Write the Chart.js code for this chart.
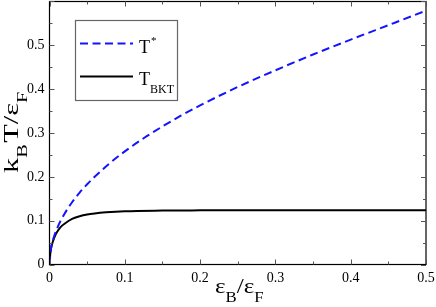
<!DOCTYPE html>
<html>
<head>
<meta charset="utf-8">
<script src="https://cdn.jsdelivr.net/npm/chart.js@4"></script>
<style>
  html, body { margin: 0; padding: 0; background: #fff; }
  #chart { display: block; }
</style>
</head>
<body>
<canvas id="chart" width="436" height="307"></canvas>
<script>
// values
var xStar = [0, 0.002, 0.005, 0.01, 0.02, 0.03, 0.04, 0.05, 0.06, 0.08, 0.1, 0.125, 0.15, 0.175, 0.2, 0.25, 0.3, 0.35, 0.4, 0.45, 0.5];
var tStar = [0, 0.037, 0.058, 0.082, 0.116, 0.142, 0.164, 0.183, 0.2, 0.231, 0.258, 0.288, 0.315, 0.34, 0.363, 0.405, 0.443, 0.479, 0.513, 0.546, 0.579];
var xBkt = [0, 0.001, 0.0025, 0.005, 0.0075, 0.01, 0.015, 0.02, 0.03, 0.04, 0.05, 0.06, 0.075, 0.1, 0.15, 0.2, 0.3, 0.4, 0.5];
var tBkt = [0, 0.024, 0.04, 0.055, 0.066, 0.074, 0.086, 0.093, 0.104, 0.11, 0.114, 0.1165, 0.119, 0.1215, 0.123, 0.1235, 0.124, 0.124, 0.124];
var xTicks = [0, 0.1, 0.2, 0.3, 0.4, 0.5];
var yTicks = [0, 0.1, 0.2, 0.3, 0.4, 0.5];

var SERIF = "'Liberation Serif', 'DejaVu Serif', serif";
Chart.defaults.font.family = SERIF;

function pairs(xs, ys) {
    var out = [];
    for (var i = 0; i < xs.length; i++) out.push({ x: xs[i], y: ys[i] });
    return out;
}

function fmt(v) {
    return v === 0 ? '0' : v.toFixed(1);
}

// writes text runs [text, size, dy] one after another, stretched along the line
function runs(ctx, parts, x0, y0, stretch) {
    ctx.save();
    ctx.translate(x0, y0);
    ctx.scale(stretch, 1);
    var x = 0;
    parts.forEach(function(p) {
        ctx.font = p[1] + 'px ' + SERIF;
        ctx.fillText(p[0], x, p[2]);
        x += ctx.measureText(p[0]).width + (p[3] || 0);
    });
    ctx.restore();
    return x * stretch;
}

// frame, inward ticks on all four sides, titles and legend
var decor = {
    id: 'decor',
    afterDatasetsDraw: function(chart) {
        var ctx = chart.ctx;
        var a = chart.chartArea;
        var xs = chart.scales.x, ys = chart.scales.y;
        ctx.save();
        ctx.strokeStyle = '#000';
        ctx.lineWidth = 1.2;
        ctx.strokeRect(a.left, a.top, a.right - a.left, a.bottom - a.top);

        ctx.lineWidth = 1;
        ctx.strokeStyle = '#555';
        for (var i = 0; i <= 10; i++) {
            var v = i * 0.05;
            var len = (i % 2 === 0) ? 5 : 3;
            var px = Math.round(xs.getPixelForValue(v)) + 0.5;
            ctx.beginPath();
            ctx.moveTo(px, a.bottom); ctx.lineTo(px, a.bottom - len);
            ctx.moveTo(px, a.top); ctx.lineTo(px, a.top + len);
            ctx.stroke();
        }
        for (var j = 0; j <= 12; j++) {
            var w = j * 0.05;
            var l2 = (j % 2 === 0) ? 5 : 3;
            var py = Math.round(ys.getPixelForValue(w)) + 0.5;
            ctx.beginPath();
            ctx.moveTo(a.left, py); ctx.lineTo(a.left + l2, py);
            ctx.moveTo(a.right, py); ctx.lineTo(a.right - l2, py);
            ctx.stroke();
        }

        ctx.fillStyle = '#000';
        ctx.textBaseline = 'alphabetic';
        ctx.textAlign = 'left';

        // x title: eps_B / eps_F
        runs(ctx, [['\u03b5', 21, 0], ['B', 14, 9], ['/\u03b5', 21, 0], ['F', 14, 9]], 215, 293, 1.2);

        // y title: k_B T / eps_F, rotated
        ctx.save();
        ctx.translate(18, 173);
        ctx.rotate(-Math.PI / 2);
        runs(ctx, [['k', 21, 0], ['B', 14, 9, 1], ['T/\u03b5', 21, 0], ['F', 14, 9]], 0, 0, 1.45);
        ctx.restore();

        // legend box
        ctx.strokeStyle = '#666';
        ctx.lineWidth = 1.2;
        ctx.strokeRect(75.5, 20.5, 102, 80);

        ctx.lineWidth = 2;
        ctx.strokeStyle = '#1414ff';
        ctx.setLineDash([8, 4.5]);
        ctx.beginPath(); ctx.moveTo(80, 43.5); ctx.lineTo(133, 43.5); ctx.stroke();
        ctx.setLineDash([]);
        ctx.strokeStyle = '#000';
        ctx.beginPath(); ctx.moveTo(80, 76.5); ctx.lineTo(133, 76.5); ctx.stroke();

        runs(ctx, [['T', 18, 0, 1], ['*', 11, -9]], 139, 53, 1);
        runs(ctx, [['T', 18, 0], ['BKT', 12, 8]], 139, 85, 1);
        ctx.restore();
    }
};

var ctx = document.getElementById('chart').getContext('2d');
var myChart = new Chart(ctx, {
    type: 'line',
    data: {
        datasets: [{
            label: 'T*',
            data: pairs(xStar, tStar),
            borderColor: '#1414ff',
            borderWidth: 2,
            borderDash: [8, 4.5],
            pointRadius: 0,
            fill: false,
            cubicInterpolationMode: 'monotone'
        }, {
            label: 'T_BKT',
            data: pairs(xBkt, tBkt),
            borderColor: '#000',
            borderWidth: 2,
            pointRadius: 0,
            fill: false,
            cubicInterpolationMode: 'monotone'
        }]
    },
    options: {
        responsive: false,
        animation: false,
        events: [],
        layout: { padding: { left: 0, right: 10, top: 1.5, bottom: 0 } },
        plugins: { legend: { display: false }, tooltip: { enabled: false } },
        scales: {
            x: {
                type: 'linear',
                min: 0, max: 0.5,
                grid: { display: false, drawTicks: false },
                border: { display: false },
                afterBuildTicks: function(s) { s.ticks = xTicks.map(function(v) { return { value: v }; }); },
                afterFit: function(s) { s.height = 42.5; s.paddingLeft = 0; s.paddingRight = 0; },
                ticks: {
                    padding: 5,
                    maxRotation: 0,
                    color: '#000',
                    font: { family: SERIF, size: 14 },
                    callback: function(v) { return fmt(v); }
                }
            },
            y: {
                type: 'linear',
                min: 0, max: 0.6,
                grid: { display: false, drawTicks: false },
                border: { display: false },
                afterBuildTicks: function(s) { s.ticks = yTicks.map(function(v) { return { value: v }; }); },
                afterFit: function(s) { s.width = 49.5; s.paddingTop = 0; s.paddingBottom = 0; },
                ticks: {
                    padding: 5,
                    color: '#000',
                    font: { family: SERIF, size: 14 },
                    callback: function(v) { return fmt(v); }
                }
            }
        }
    },
    plugins: [decor]
});
</script>
</body>
</html>
